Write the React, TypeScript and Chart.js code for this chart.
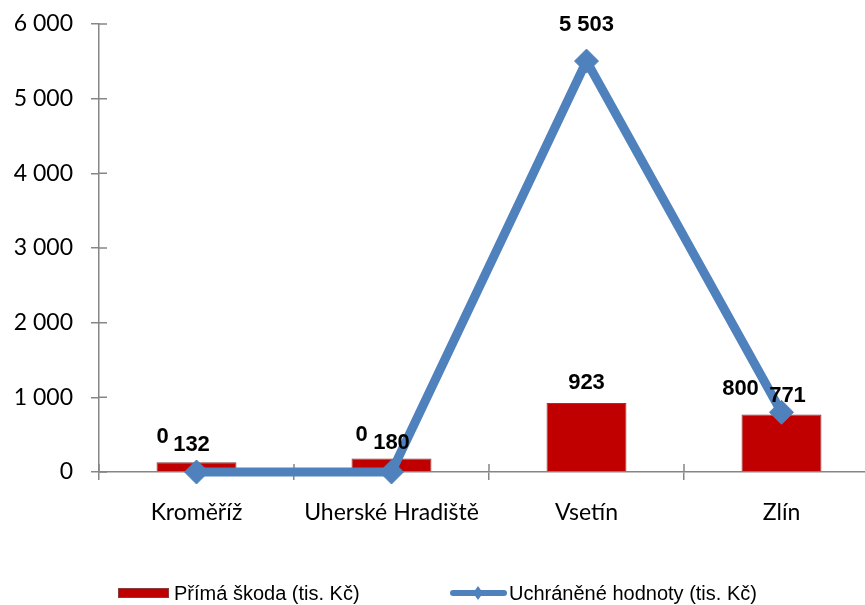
import React, { useEffect, useRef } from 'react';
import { Chart, registerables } from 'chart.js';

Chart.register(...registerables);

const categories = ['Kroměříž', 'Uherské Hradiště', 'Vsetín', 'Zlín'];
const primaSkoda = [132, 180, 923, 771];
const uchraneneHodnoty = [0, 0, 5503, 800];
const seriesNames = ['Přímá škoda (tis. Kč)', 'Uchráněné hodnoty (tis. Kč)'];
const yMin = 0;
const yMax = 6000;
const yStep = 1000;

// label placement offsets (px) relative to the mark
const barLabelOffsets = [[-5, -17], [0, -16], [0, -20], [6, -18]];
const lineLabelOffsets = [[-34, -35], [-30, -37], [0, -36], [-41, -23]];

const fmt = (v: number) => String(Math.round(v)).replace(/\B(?=(\d{3})+(?!\d))/g, ' ');

const AXIS = '#868686';
const BLUE = '#4F81BD';
const RED = '#C00000';

const innerTicks = {
  id: 'innerTicks',
  beforeDatasetsDraw(chart: any) {
    const { ctx } = chart;
    const xs = chart.scales.x;
    const ys = chart.scales.y;
    ctx.save();
    ctx.strokeStyle = AXIS;
    ctx.lineWidth = 1.5;
    ctx.beginPath();
    for (let v = yMin; v <= yMax; v += yStep) {
      const py = ys.getPixelForValue(v);
      ctx.moveTo(ys.right, py);
      ctx.lineTo(ys.right + 8, py);
    }
    const n = categories.length;
    const half = xs.width / n / 2;
    for (let i = 0; i <= n; i++) {
      const px = i < n ? xs.getPixelForValue(i) - half : xs.getPixelForValue(n - 1) + half;
      ctx.moveTo(px, xs.top);
      ctx.lineTo(px, xs.top - 8);
    }
    ctx.stroke();
    ctx.restore();
  },
};

const dataLabels = {
  id: 'dataLabels',
  afterDatasetsDraw(chart: any) {
    const { ctx } = chart;
    ctx.save();
    ctx.font = 'bold 22px "Liberation Sans", Arial, sans-serif';
    ctx.fillStyle = '#000';
    ctx.textAlign = 'center';
    ctx.textBaseline = 'middle';
    const barMeta = chart.getDatasetMeta(0);
    barMeta.data.forEach((el: any, i: number) => {
      const o = barLabelOffsets[i];
      ctx.fillText(fmt(primaSkoda[i]), el.x + o[0], el.y + o[1]);
    });
    const lineMeta = chart.getDatasetMeta(1);
    lineMeta.data.forEach((el: any, i: number) => {
      const o = lineLabelOffsets[i];
      ctx.fillText(fmt(uchraneneHodnoty[i]), el.x + o[0], el.y + o[1]);
    });
    ctx.restore();
  },
};

export default function App() {
  const ref = useRef<HTMLCanvasElement>(null);
  useEffect(() => {
    if (!ref.current) return;
    const chart = new Chart(ref.current, {
      type: 'bar',
      data: {
        labels: categories,
        datasets: [
          {
            type: 'bar',
            label: seriesNames[0],
            data: primaSkoda,
            backgroundColor: RED,
            borderColor: '#8c3a3a',
            borderWidth: 1,
            categoryPercentage: 1,
            barPercentage: 0.41,
            order: 1,
          } as any,
          {
            type: 'line',
            label: seriesNames[1],
            data: uchraneneHodnoty,
            borderColor: BLUE,
            borderWidth: 9,
            pointStyle: 'rectRot',
            pointRadius: 12,
            pointHoverRadius: 12,
            pointBackgroundColor: BLUE,
            pointBorderColor: BLUE,
            pointBorderWidth: 1,
            tension: 0,
            clip: false,
            order: 0,
          } as any,
        ],
      },
      options: {
        animation: false,
        responsive: false,
        maintainAspectRatio: false,
        layout: { autoPadding: false, padding: { top: 24, right: 21, left: 0, bottom: 0 } },
        plugins: {
          legend: { display: false },
          tooltip: { enabled: false },
        },
        scales: {
          x: {
            offset: true,
            grid: {
              offset: true,
              drawOnChartArea: false,
              drawTicks: true,
              tickLength: 8,
              color: AXIS,
              lineWidth: 1.5,
            },
            border: { display: true, color: AXIS, width: 1.5 },
            ticks: {
              color: '#000',
              padding: 19,
              maxRotation: 0,
              autoSkip: false,
              font: { family: 'Lato, Carlito, Calibri, sans-serif', size: 23 },
            },
            afterFit: (s: any) => { s.height = 133; s.paddingLeft = 0; s.paddingRight = 0; },
          },
          y: {
            min: yMin,
            max: yMax,
            grid: {
              drawOnChartArea: false,
              drawTicks: true,
              tickLength: 8,
              color: AXIS,
              lineWidth: 1.5,
            },
            border: { display: true, color: AXIS, width: 1.5 },
            ticks: {
              stepSize: yStep,
              color: '#000',
              padding: 18,
              callback: (v: any) => fmt(Number(v)),
              font: { family: 'Lato, Carlito, Calibri, sans-serif', size: 23 },
            },
            afterFit: (s: any) => { s.width = 99; s.paddingTop = 0; s.paddingBottom = 0; },
          },
        },
      },
      plugins: [innerTicks, dataLabels],
    });
    return () => chart.destroy();
  }, []);

  const legendFont: React.CSSProperties = {
    position: 'absolute',
    top: 581,
    fontFamily: '"Liberation Sans", Arial, sans-serif',
    fontSize: 20,
    lineHeight: '24px',
    color: '#000',
    whiteSpace: 'nowrap',
  };

  return (
    <div style={{ position: 'fixed', left: 0, top: 0, width: 865, height: 605, overflow: 'hidden', background: '#fff' }}>
      <canvas ref={ref} width={900} height={605} style={{ display: 'block', width: 900, height: 605 }} />
      <div style={{ position: 'absolute', left: 118, top: 588, width: 49, height: 8, background: RED, border: '1px solid #8c3a3a' }} />
      <div style={{ ...legendFont, left: 174 }}>{seriesNames[0]}</div>
      <div style={{ position: 'absolute', left: 450, top: 590, width: 57, height: 6, borderRadius: 3, background: BLUE }} />
      <div style={{ position: 'absolute', left: 473, top: 588, width: 10, height: 10, background: BLUE, transform: 'scaleX(0.7) rotate(45deg)' }} />
      <div style={{ ...legendFont, left: 509 }}>{seriesNames[1]}</div>
    </div>
  );
}
